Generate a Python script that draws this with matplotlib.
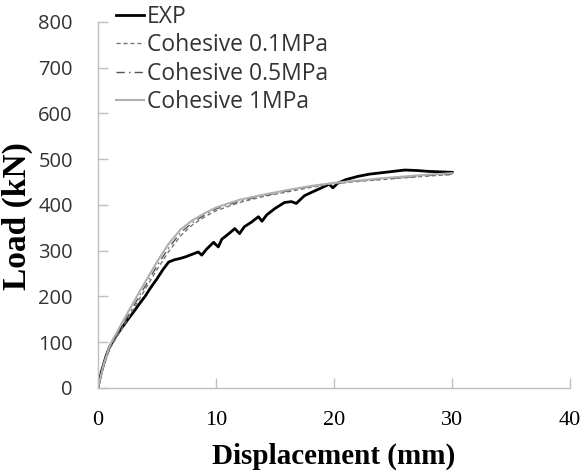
import matplotlib
matplotlib.use("Agg")
import matplotlib.pyplot as plt

# EXP curve (with the small load drops)
exp_d = [0, 0.3, 0.7, 1.0, 1.5, 2.0, 2.5, 3.0, 3.5, 4.0, 4.5, 5.0, 5.5, 6.0, 6.5, 7.0, 7.5, 8.0,
         8.5, 8.8, 9.2, 9.8, 10.2, 10.5, 11.0, 11.6, 12.0, 12.4, 13.0, 13.6, 13.9, 14.3, 15.0,
         15.8, 16.4, 16.8, 17.5, 18.5, 19.6, 19.9, 20.3, 21.0, 22.0, 23.0, 24.0, 25.0, 26.0,
         27.0, 28.0, 29.0, 30.0]
exp_l = [0, 35, 70, 90, 112, 130, 148, 165, 183, 200, 220, 238, 258, 275, 280, 283, 287, 292,
         297, 290, 303, 318, 308, 325, 335, 348, 337, 352, 362, 374, 364, 378, 392,
         405, 407, 403, 420, 432, 445, 437, 447, 455, 462, 467, 470, 473, 476,
         475, 473, 472, 471]

coh_d = [0, 0.5, 1, 2, 3, 4, 5, 6, 7, 8, 9, 10, 12, 14, 16, 18, 20, 22, 24, 26, 28, 30]
coh01_l = [0, 48, 85, 128, 172, 215, 258, 298, 332, 356, 373, 387, 405, 418, 428, 438, 446,
           451, 455, 459, 463, 466]
coh05_l = [0, 50, 88, 133, 178, 222, 266, 306, 339, 361, 377, 391, 408, 420, 430, 440, 447,
           452, 456, 460, 464, 467]
coh1_l = [0, 52, 92, 140, 186, 231, 275, 315, 346, 366, 381, 394, 411, 422, 432, 441, 448,
          453, 458, 462, 466, 469]

x_ticks = [0, 10, 20, 30, 40]
y_ticks = [0, 100, 200, 300, 400, 500, 600, 700, 800]

fig = plt.figure(figsize=(5.86, 4.73), dpi=100)
ax = fig.add_axes([0.167, 0.18, 0.806, 0.774])

ax.plot(exp_d, exp_l, color="black", lw=2.0, label="EXP")
ax.plot(coh_d, coh01_l, color="#777777", lw=1.0, ls=(0, (3, 2)), label="Cohesive 0.1MPa")
ax.plot(coh_d, coh05_l, color="#555555", lw=1.0, ls=(0, (6, 3, 1, 3)), label="Cohesive 0.5MPa")
ax.plot(coh_d, coh1_l, color="#b0b0b0", lw=1.5, label="Cohesive 1MPa")

ax.set_xlim(0, 40)
ax.set_ylim(0, 800)
ax.set_xticks(x_ticks)
ax.set_yticks(y_ticks)

for s in ("top", "right"):
    ax.spines[s].set_visible(False)
for s in ("left", "bottom"):
    ax.spines[s].set_color("#bfbfbf")
    ax.spines[s].set_linewidth(1.0)
ax.tick_params(axis="both", direction="in", length=7, color="#bfbfbf", width=1.0)
ax.tick_params(axis="y", pad=18)
ax.tick_params(axis="x", pad=17)

for t in ax.get_yticklabels():
    t.set_fontfamily("Open Sans")
    t.set_fontsize(14.5)
    t.set_color("#333333")
for t in ax.get_xticklabels():
    t.set_fontfamily("Liberation Serif")
    t.set_fontsize(16)

ax.set_xlabel("Displacement (mm)", fontfamily="Liberation Serif", fontweight="bold", fontsize=21)
ax.set_ylabel("Load (kN)", fontfamily="Liberation Serif", fontweight="bold", fontsize=24)
ax.xaxis.set_label_coords(0.5, -0.15)
ax.yaxis.set_label_coords(-0.137, 0.47)

leg = ax.legend(loc="upper left", bbox_to_anchor=(0.038, 1.047), frameon=False,
                prop={"family": "Open Sans", "size": 16.5}, handlelength=1.25,
                handletextpad=0.12, labelspacing=0.2, borderaxespad=0, borderpad=0)
for t in leg.get_texts():
    t.set_color("#333333")

fig.savefig("out.png", dpi=100)
